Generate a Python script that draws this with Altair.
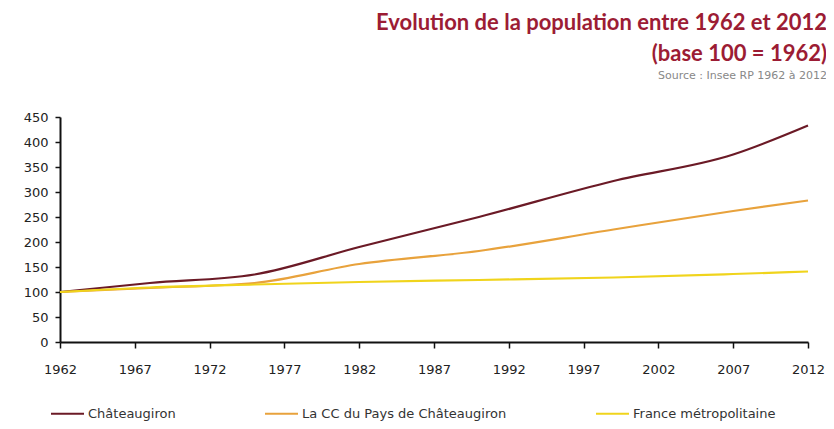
import altair as alt
import pandas as pd

years = [1962, 1968, 1975, 1982, 1990, 1999, 2007, 2012]
chateaugiron = [100, 118, 135, 190, 250, 322, 375, 433]
cc_pays = [100, 108, 118, 156, 182, 225, 262, 283]
france = [100, 109, 115, 120, 124, 129, 136, 141]

series_names = ["Châteaugiron", "La CC du Pays de Châteaugiron", "France métropolitaine"]
series_colors = ["#6b1a26", "#e8a23c", "#f0d41c"]
x_ticks = [1962, 1967, 1972, 1977, 1982, 1987, 1992, 1997, 2002, 2007, 2012]
y_ticks = [0, 50, 100, 150, 200, 250, 300, 350, 400, 450]

rows = []
for name, vals in zip(series_names, [chateaugiron, cc_pays, france]):
    for yr, v in zip(years, vals):
        rows.append({"year": yr, "value": v, "series": name})
df = pd.DataFrame(rows)

TFONT = "Lato"
FONT = "DejaVu Sans"

chart = alt.Chart(df).mark_line(interpolate="monotone", strokeWidth=2.2).encode(
    x=alt.X("year:Q",
            scale=alt.Scale(domain=[1962, 2012], nice=False, zero=False),
            axis=alt.Axis(values=x_ticks, format="d", title=None, grid=False,
                          labelFlush=False,
                          domainColor="#111", domainWidth=2, tickColor="#111",
                          tickWidth=1.5, tickSize=6, labelPadding=15,
                          labelFont=FONT, labelFontSize=13, labelColor="#222")),
    y=alt.Y("value:Q",
            scale=alt.Scale(domain=[0, 450], nice=False),
            axis=alt.Axis(values=y_ticks, title=None, grid=False,
                          domainColor="#111", domainWidth=2, tickColor="#111",
                          tickWidth=1.5, tickSize=5, labelPadding=7,
                          labelFont=FONT, labelFontSize=13, labelColor="#222")),
    color=alt.Color("series:N",
                    scale=alt.Scale(domain=series_names, range=series_colors),
                    legend=alt.Legend(orient="none", legendX=-10, legendY=279,
                                      direction="horizontal", title=None,
                                      symbolType="stroke", symbolStrokeWidth=2,
                                      symbolSize=1089, columnPadding=85,
                                      labelOffset=3, labelLimit=400,
                                      labelFont=FONT, labelFontSize=13,
                                      labelColor="#333")),
    order=alt.Order("year:Q"),
).properties(
    width=748,
    height=225,
    autosize="none",
    padding={"left": 52, "top": 109, "right": 18, "bottom": 79},
    title=alt.TitleParams(
        text=["Evolution de la population entre 1962 et 2012", "(base 100 = 1962)"],
        subtitle="Source : Insee RP 1962 à 2012",
        anchor="end", frame="group", orient="top", dx=19, offset=29,
        font=TFONT, fontSize=22, fontWeight="bold", color="#9c1c34", lineHeight=31,
        subtitleFont=FONT, subtitleFontSize=11, subtitleColor="#888",
        subtitlePadding=4,
    ),
).configure_view(stroke=None)

chart.save("out.html", embed_options={"renderer": "svg", "actions": False})
